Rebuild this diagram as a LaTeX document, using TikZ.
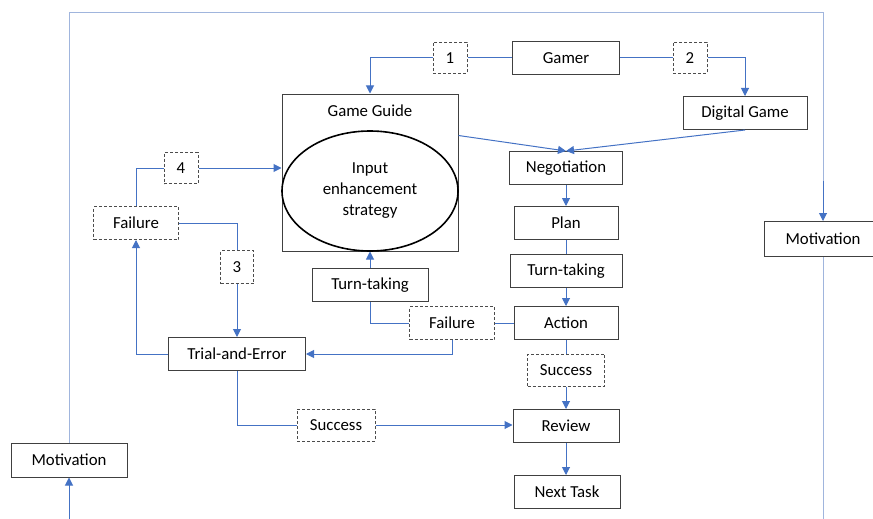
\documentclass[tikz,border=0pt]{standalone}
\usepackage{fontspec}
\setmainfont{Carlito}
\usepackage{tikz}
\usetikzlibrary{arrows.meta,shapes.geometric}

\definecolor{linkblue}{RGB}{68,114,196}
\definecolor{frameblue}{RGB}{160,181,221}

\begin{document}
\begin{tikzpicture}[->, >={Triangle[length=8pt,width=8pt]}, x=1pt, y=-1pt,
		box/.style={draw=black!75, line width=1pt, rectangle, minimum height=33pt, inner sep=2pt, font=\fontsize{16.8}{21}\selectfont},
		dbox/.style={box, draw=black!70, dash pattern=on 3pt off 2pt},
		link/.style={draw=linkblue, line width=1pt},
		frame/.style={-, draw=frameblue, line width=0.9pt}]
		  		\path[use as bounding box, clip] (0,0) rectangle (873,519);

		  		\node[box, minimum width=107pt]		(GAMER)	at (566,58)		{Gamer};
		  		\node[dbox, minimum width=34pt, minimum height=31pt]	(ONE)	at (450,58)	{1};
		  		\node[dbox, minimum width=34pt, minimum height=31pt]	(TWO)	at (690,58)	{2};
		  		\node[box, minimum width=124pt]		(DG)		at (745,113)	{Digital Game};
		  		\node[box, minimum width=176pt, minimum height=157pt]	(GG)	at (370,172.5)	{};
		  		\node[font=\fontsize{16.8}{21}\selectfont]	(GGT)	at (370,111)	{Game Guide};
		  		\node[ellipse, draw=black, line width=1.6pt, minimum width=176pt, minimum height=120pt, inner sep=0pt, align=center, font=\fontsize{16.8}{21}\selectfont]	(IES)	at (370,191)	{Input\\enhancement\\strategy};
		  		\node[box, minimum width=113pt]		(NEG)		at (566,168)	{Negotiation};
		  		\node[box, minimum width=104pt]		(PLAN)	at (566,223)	{Plan};
		  		\node[box, minimum width=112pt]		(TTR)		at (566,271)	{Turn-taking};
		  		\node[box, minimum width=104pt]		(ACT)		at (566,323)	{Action};
		  		\node[dbox, minimum width=77pt, minimum height=32pt]	(SUCR)	at (566,370)	{Success};
		  		\node[box, minimum width=106pt]		(REV)		at (566,426)	{Review};
		  		\node[box, minimum width=106pt]		(NEXT)	at (567,492)	{Next Task};
		  		\node[dbox, minimum width=85pt]		(FAILM)	at (452,323)	{Failure};
		  		\node[box, minimum width=116pt]		(TTL)		at (370,285)	{Turn-taking};
		  		\node[box, minimum width=137pt]		(TE)		at (237,354)	{Trial-and-Error};
		  		\node[dbox, minimum width=78pt, minimum height=32pt]	(SUCL)	at (336,425)	{Success};
		  		\node[dbox, minimum width=85pt]		(FAILL)	at (136,223)	{Failure};
		  		\node[dbox, minimum width=34pt, minimum height=31pt]	(FOUR)	at (181,168)	{4};
		  		\node[dbox, minimum width=33pt]		(THREE)	at (237,267)	{3};
		  		\node[box, minimum width=116pt, minimum height=34pt]	(MOTL)	at (69,460)	{Motivation};
		  		\node[box, minimum width=118pt, minimum height=35pt]	(MOTR)	at (823,239)	{Motivation};

		  		\coordinate (CTL) at (69,12);
		  		\coordinate (CTR) at (823,12);
		  		\coordinate (CR) at (823,181);
		  		\coordinate (BL) at (69,519);
		  		\coordinate (BR) at (823,519);

		  		% outer loop
		  		\draw[frame] (MOTL.north) -- (CTL) -- (CTR) -- (CR);
		  		\draw[frame] (MOTR.south) -- (BR);
		  		\path	(CR)		edge[link]	(MOTR.north)
		  				(BL)		edge[link]	(MOTL.south);

		  		% gamer
		  		\path	(GAMER)	edge[link, -]	(ONE)
		  				(GAMER)	edge[link, -]	(TWO);
		  		\draw[link] (ONE.west) -| (GG.north);
		  		\draw[link] (TWO.east) -| (DG.north);

		  		% main column
		  		\path	([yshift=37pt]GG.east)	edge[link]	(NEG.north)
		  				(DG.south)	edge[link]		(NEG.north)
		  				(NEG)		edge[link]		(PLAN)
		  				(PLAN)		edge[link, -]	(TTR)
		  				(TTR)		edge[link]		(ACT)
		  				(ACT)		edge[link, -]	(SUCR)
		  				(SUCR)		edge[link]		(REV)
		  				(REV.south)	edge[link]		(REV.south |- NEXT.north)
		  				(ACT)		edge[link, -]	(FAILM)
		  				(TTL)		edge[link]		(GG.south)
		  				(SUCL)		edge[link]		(REV.west |- SUCL.east)
		  				(THREE)	edge[link]		(TE)
		  				(FOUR.east)	edge[link]	(FOUR.east -| GG.west);

		  		% failure and retry
		  		\draw[link, -] (FAILM.west) -| (TTL.south);
		  		\draw[link] (FAILM.south) |- (TE.east);
		  		\draw[link] (TE.west) -| (FAILL.south);
		  		\draw[link, -] (TE.south) |- (SUCL.west);
		  		\draw[link, -] (FAILL.north) |- (FOUR.west);
		  		\draw[link, -] (FAILL.east) -| (THREE.north);
\end{tikzpicture}
\end{document}
